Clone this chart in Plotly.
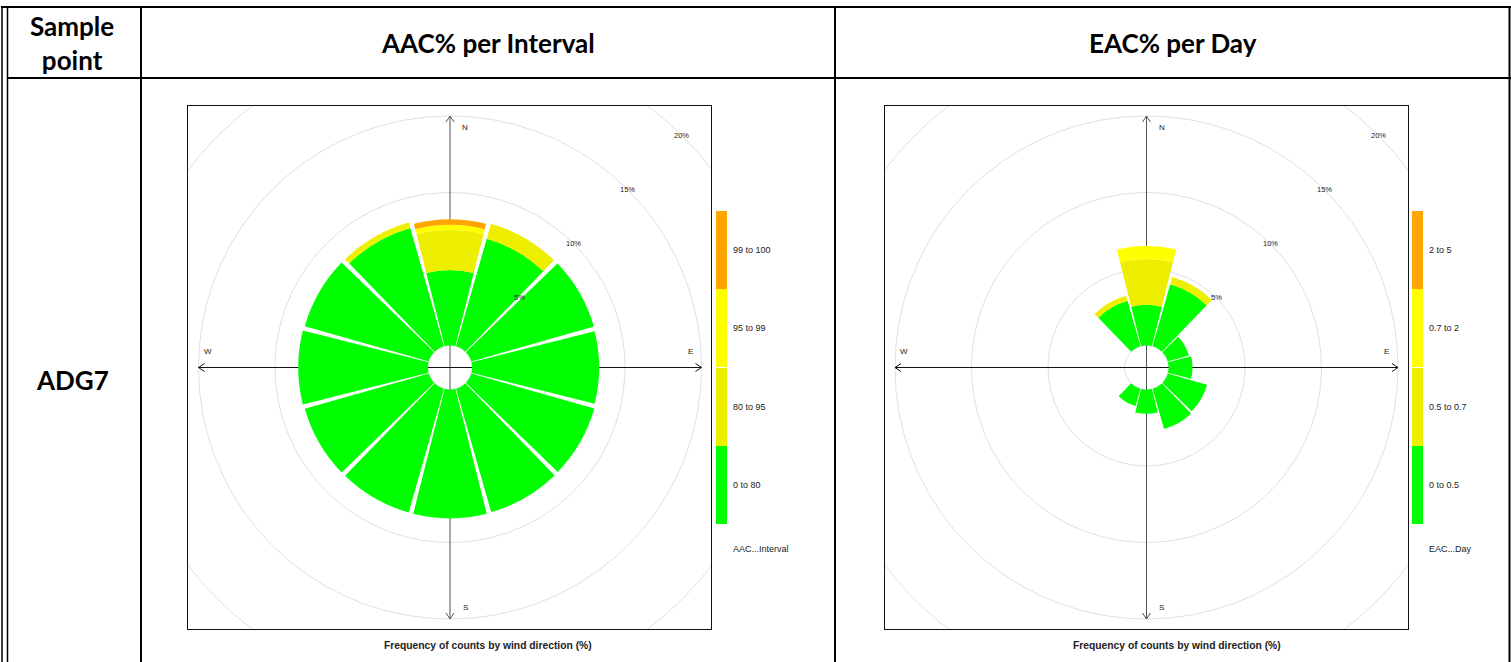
import numpy as np
import plotly.graph_objects as go

W, H = 1511, 662

# Wind directions (degrees clockwise from north)
directions = [0, 30, 60, 90, 120, 150, 180, 210, 240, 270, 300, 330]

# AAC% per Interval: frequency of counts (%) per direction, split by class
aac_bins = ["0 to 80", "80 to 95", "95 to 99", "99 to 100"]
aac_0_80 = [4.93, 7.32, 8.34, 8.31, 8.37, 8.39, 8.42, 8.42, 8.43, 8.48, 8.43, 8.04]
aac_80_95 = [2.62, 1.01, 0, 0, 0, 0, 0, 0, 0, 0, 0, 0.37]
aac_95_99 = [0.33, 0, 0, 0, 0, 0, 0, 0, 0, 0, 0, 0]
aac_99_100 = [0.37, 0, 0, 0, 0, 0, 0, 0, 0, 0, 0, 0]

# EAC% per Day: frequency of counts (%) per direction, split by class
eac_bins = ["0 to 0.5", "0.5 to 0.7", "0.7 to 2", "2 to 5"]
eac_0_05 = [2.66, 4.22, 1.44, 1.57, 2.68, 2.75, 1.59, 1.18, 0, 0, 0, 3.09]
eac_05_07 = [2.99, 0.49, 0, 0, 0, 0, 0, 0, 0, 0, 0, 0.35]
eac_07_2 = [0.87, 0, 0, 0, 0, 0, 0, 0, 0, 0, 0, 0]
eac_2_5 = [0, 0, 0, 0, 0, 0, 0, 0, 0, 0, 0, 0]

class_colors = ["#00FF00", "#EEEE00", "#FFFF00", "#FFA500"]
ring_levels = [0, 5, 10, 15, 20]
ring_labels = {5: "5%", 10: "10%", 15: "15%", 20: "20%"}

# geometry (pixels)
PX = 15.3          # pixels per percent
HOLE = 22          # radius of the central hole
RMAX = 10          # radial range of the bar subplot
R_PX = HOLE + PX * RMAX
CY = 367.5
BOX_TOP, BOX_BOT = 106, 629
hole_u = HOLE / PX

charts = [
    dict(cx=450, box=(188, 711), classes=[aac_0_80, aac_80_95, aac_95_99, aac_99_100],
         labels=aac_bins, key_x=716, key_title="AAC...Interval",
         caption_x=487.5, header="AAC% per Interval", header_x=488),
    dict(cx=1146.5, box=(885, 1408), classes=[eac_0_05, eac_05_07, eac_07_2, eac_2_5],
         labels=eac_bins, key_x=1412, key_title="EAC...Day",
         caption_x=1176.5, header="EAC% per Day", header_x=1173),
]


def fx(x):
    return x / W


def fy(y):
    return 1 - y / H


def paper_text(x, y, text, font, xanchor="center"):
    return dict(x=fx(x), y=fy(y), xref="paper", yref="paper", text=text, showarrow=False,
                xanchor=xanchor, yanchor="middle", font=font)


fig = go.Figure()
layout = dict(width=W, height=H, margin=dict(l=0, r=0, t=0, b=0),
              paper_bgcolor="white", plot_bgcolor="white", showlegend=False)
shapes, annotations = [], []
small = dict(family="Liberation Sans, Arial, sans-serif", color="#222")
big = dict(size=26, family="Lato, sans-serif", color="black", weight="bold")

t = np.linspace(0, 2 * np.pi, 721)
for i, ch in enumerate(charts):
    n = "" if i == 0 else str(i + 1)
    xa, ya, pol = "x" + n, "y" + n, "polar" + n
    cx = ch["cx"]
    x0, x1 = ch["box"]

    # grid rings
    for p in ring_levels:
        r = hole_u + p
        fig.add_trace(go.Scatter(x=r * np.sin(t), y=r * np.cos(t), mode="lines",
                                 line=dict(color="#E0E0E0", width=1), hoverinfo="skip",
                                 xaxis=xa, yaxis=ya))

    # compass arrows
    L = hole_u + 15
    a, b = 4 / PX, 6 / PX
    ax = [0, 0, None, -a, 0, a, None, -a, 0, a]
    ay = [-L, L, None, L - b, L, L - b, None, -L + b, -L, -L + b]
    fig.add_trace(go.Scatter(x=ax, y=ay, mode="lines", line=dict(color="#555", width=1),
                             hoverinfo="skip", xaxis=xa, yaxis=ya))
    hx = [-L, L, None, -L + b, -L, -L + b, None, L - b, L, L - b]
    hy = [0, 0, None, a, 0, -a, None, a, 0, -a]
    fig.add_trace(go.Scatter(x=hx, y=hy, mode="lines", line=dict(color="#111", width=1),
                             hoverinfo="skip", xaxis=xa, yaxis=ya))

    # stacked wind-rose bars
    for vals, name, col in zip(ch["classes"], ch["labels"], class_colors):
        fig.add_trace(go.Barpolar(r=vals, theta=directions, width=28.2, name=name,
                                  marker=dict(color=col, line=dict(width=0)),
                                  subplot=pol))

    layout["xaxis" + n] = dict(domain=[fx(x0), fx(x1)], range=[(x0 - cx) / PX, (x1 - cx) / PX],
                               showgrid=False, zeroline=False, showticklabels=False, ticks="",
                               showline=True, mirror=True, linecolor="#111", linewidth=1,
                               fixedrange=True, anchor=ya)
    layout["yaxis" + n] = dict(domain=[fy(BOX_BOT), fy(BOX_TOP)],
                               range=[(CY - BOX_BOT) / PX, (CY - BOX_TOP) / PX],
                               showgrid=False, zeroline=False, showticklabels=False, ticks="",
                               showline=True, mirror=True, linecolor="#111", linewidth=1,
                               fixedrange=True, anchor=xa)
    layout[pol] = dict(
        domain=dict(x=[fx(cx - R_PX), fx(cx + R_PX)], y=[fy(CY + R_PX), fy(CY - R_PX)]),
        hole=HOLE / R_PX, bgcolor="rgba(0,0,0,0)", barmode="stack", bargap=0,
        radialaxis=dict(range=[0, RMAX], visible=False, showgrid=False, showline=False,
                        showticklabels=False, ticks=""),
        angularaxis=dict(rotation=90, direction="clockwise", visible=False, showgrid=False,
                         showline=False, showticklabels=False, ticks=""),
    )

    # compass labels
    for txt, lx, ly in [("N", 1.0, L - 0.75), ("S", 1.0, -L + 0.75),
                        ("W", -L + 0.6, 1.05), ("E", L - 0.75, 1.05)]:
        annotations.append(dict(x=lx, y=ly, xref=xa, yref=ya, text=txt, showarrow=False,
                                xanchor="center", yanchor="middle",
                                font=dict(size=8, **small)))
    # ring labels along the 45 degree line
    for p, lab in ring_labels.items():
        r = (hole_u + p) / np.sqrt(2)
        annotations.append(dict(x=r, y=r, xref=xa, yref=ya, text=lab, showarrow=False,
                                xanchor="center", yanchor="middle",
                                font=dict(size=7.5, **small)))

    # colour key
    seg_top = [211, 289, 368, 446]
    seg_h = 78
    kx = ch["key_x"]
    for j, (lab, col) in enumerate(zip(ch["labels"][::-1], class_colors[::-1])):
        ytop = seg_top[j]
        shapes.append(dict(type="rect", xref="paper", yref="paper", x0=fx(kx), x1=fx(kx + 11),
                           y0=fy(ytop + seg_h), y1=fy(ytop), fillcolor=col, line=dict(width=0)))
        annotations.append(paper_text(kx + 15, ytop + seg_h / 2, lab,
                                      dict(size=9, **small), xanchor="left"))
    annotations.append(paper_text(kx + 15, 549, ch["key_title"],
                                  dict(size=9, **small), xanchor="left"))

    # caption under each rose
    annotations.append(paper_text(ch["caption_x"], 645,
                                  "Frequency of counts by wind direction (%)",
                                  dict(size=10.3, family="Liberation Sans, Arial, sans-serif",
                                       color="#222", weight="bold")))

    # column header
    annotations.append(paper_text(ch["header_x"], 43, ch["header"], big))

# table row labels
annotations.append(paper_text(72, 43, "Sample<br>point", big))
annotations.append(paper_text(72, 380, "ADG7", big))


# table rules
def hline(y, xa0, xa1, w=2):
    shapes.append(dict(type="line", xref="paper", yref="paper", x0=fx(xa0), x1=fx(xa1),
                       y0=fy(y), y1=fy(y), line=dict(color="black", width=w)))


def vline(x, ya0, ya1, w=2):
    shapes.append(dict(type="line", xref="paper", yref="paper", x0=fx(x), x1=fx(x),
                       y0=fy(ya0), y1=fy(ya1), line=dict(color="black", width=w)))


hline(7, 1, W)
hline(78, 7, W)
vline(2, 6, H, 1.5)
vline(7.5, 6, H, 1.5)
vline(141, 6, H)
vline(835, 6, H)
vline(1509.5, 6, H)

layout["shapes"] = shapes
layout["annotations"] = annotations
fig.update_layout(**layout)
fig.write_html("out.html")
